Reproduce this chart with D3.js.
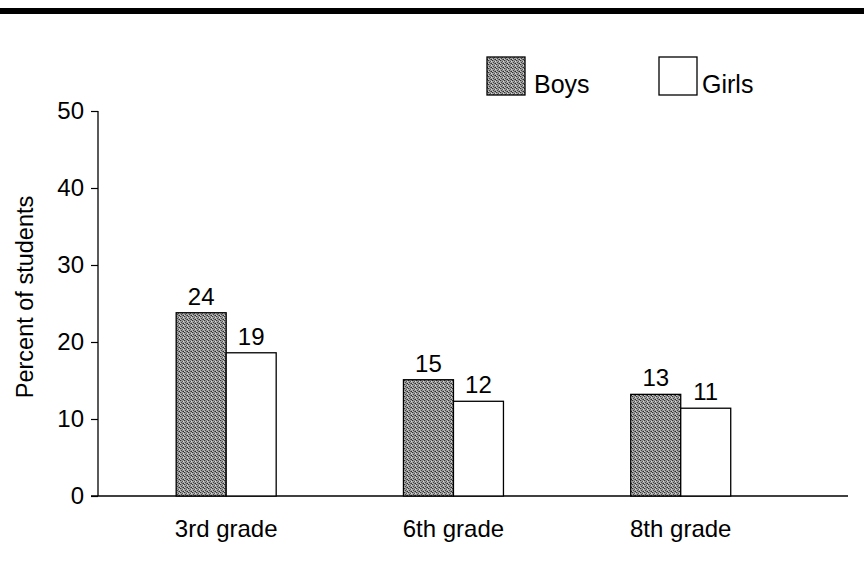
<!DOCTYPE html>
<html><head><meta charset="utf-8">
<script src="https://cdn.jsdelivr.net/npm/d3@7"></script>
<style>body{margin:0;background:#fff}svg{display:block;font-family:"Liberation Sans",Arial,Helvetica,sans-serif}</style>
</head><body><svg id="c" width="864" height="582"></svg>
<script>
const categories = ["3rd grade", "6th grade", "8th grade"];
const series = ["Boys", "Girls"];
const boys = [23.8, 15.1, 13.2];
const girls = [18.6, 12.3, 11.4];
const boysLabels = ["24", "15", "13"];
const girlsLabels = ["19", "12", "11"];
const yTicks = [0, 10, 20, 30, 40, 50];

const svg = d3.select("#c");
const defs = svg.append("defs");
const pat = defs.append("pattern").attr("id","stip").attr("patternUnits","userSpaceOnUse").attr("width",4).attr("height",4);
pat.append("rect").attr("width",4).attr("height",4).attr("fill","#a0a0a0");
[[0,0,"#333"],[2,1,"#555"],[1,2,"#444"],[3,3,"#2a2a2a"],[3,1,"#d8d8d8"],[0,3,"#c8c8c8"],[2,3,"#666"],[1,0,"#888"]].forEach(([x,y,c])=>
  pat.append("rect").attr("x",x).attr("y",y).attr("width",1).attr("height",1).attr("fill",c));

// top rule
svg.append("rect").attr("x",0).attr("y",8).attr("width",864).attr("height",6).attr("fill","#000");

const y = d3.scaleLinear().domain([0,50]).range([496,111]);
const x0 = d3.scaleBand().domain(categories).range([98,848]).paddingInner(0.56).paddingOuter(0.43).align(0.40);
const x1 = d3.scaleBand().domain(series).range([0,x0.bandwidth()]);

// y axis
const ya = svg.append("g").attr("transform","translate(98,0)")
  .call(d3.axisLeft(y).tickValues(yTicks).tickSize(7).tickPadding(7));
ya.select(".domain").attr("stroke","#000").attr("stroke-width",1.3).attr("d","M0,"+y(50)+"V"+y(0));
ya.selectAll(".tick line").attr("stroke","#000").attr("stroke-width",1.2);
ya.selectAll(".tick text").attr("font-size",24).attr("fill","#000").attr("font-family","inherit");

// x axis baseline
svg.append("line").attr("x1",91).attr("x2",848).attr("y1",y(0)).attr("y2",y(0)).attr("stroke","#000").attr("stroke-width",1.3);

// category labels
svg.append("g").selectAll("text").data(categories).join("text")
  .attr("x",d=>x0(d)+x0.bandwidth()/2).attr("y",537).attr("text-anchor","middle")
  .attr("font-size",24).text(d=>d);

// y label
svg.append("text").attr("transform","translate(33,297) rotate(-90)").attr("text-anchor","middle")
  .attr("font-size",23.5).text("Percent of students");

const rows = categories.map((c,i)=>[
  {c, s:"Boys", v:boys[i], l:boysLabels[i]},
  {c, s:"Girls", v:girls[i], l:girlsLabels[i]}]).flat();

svg.append("g").selectAll("rect").data(rows).join("rect")
  .attr("x",d=>x0(d.c)+x1(d.s)).attr("width",x1.bandwidth())
  .attr("y",d=>y(d.v)).attr("height",d=>y(0)-y(d.v))
  .attr("fill",d=>d.s==="Boys"?"url(#stip)":"#fff")
  .attr("stroke","#000").attr("stroke-width",1.3);

svg.append("g").selectAll("text").data(rows).join("text")
  .attr("x",d=>x0(d.c)+x1(d.s)+x1.bandwidth()/2).attr("y",d=>y(d.v)-8)
  .attr("text-anchor","middle").attr("font-size",24).text(d=>d.l);

// legend
const lg = svg.append("g");
const lx = d3.scaleOrdinal().domain(series).range([487,659]);
series.forEach(s=>{
  lg.append("rect").attr("x",lx(s)).attr("y",57).attr("width",38).attr("height",38)
    .attr("fill",s==="Boys"?"url(#stip)":"#fff").attr("stroke","#000").attr("stroke-width",1.3);
  lg.append("text").attr("x",lx(s)+(s==="Boys"?47:43)).attr("y",93).attr("font-size",25).text(s);
});
</script></body></html>
